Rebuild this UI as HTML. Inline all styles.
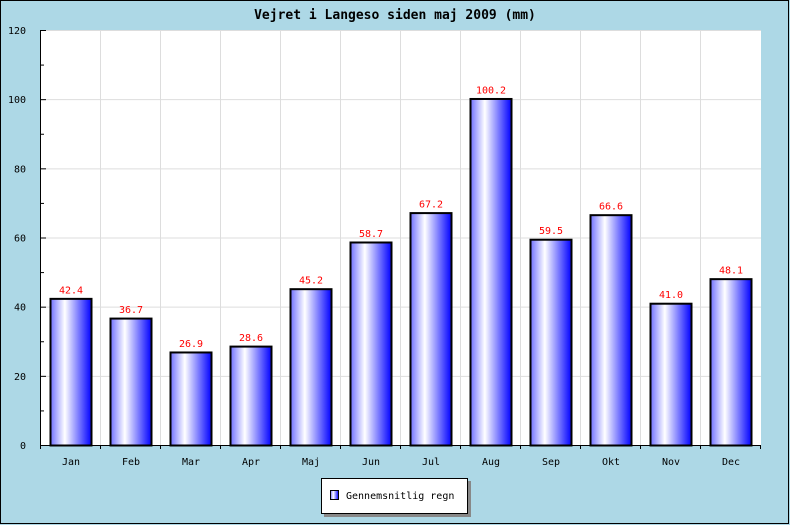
<!DOCTYPE html>
<html><head><meta charset="utf-8"><style>
body{margin:0;background:#add8e6}
svg{display:block;font-family:"DejaVu Sans Mono","Liberation Mono",monospace}
</style></head><body>
<svg width="790" height="525">
<defs><linearGradient id="g" x1="0" x2="1" y1="0" y2="0">
<stop offset="0" stop-color="#7070ff"/><stop offset="0.35" stop-color="#ffffff"/><stop offset="1" stop-color="#0000ff"/></linearGradient></defs>
<rect x="0.5" y="0.5" width="788" height="523" fill="#add8e6" stroke="#000"/>
<text x="395" y="19" text-anchor="middle" font-size="13" font-weight="bold">Vejret i Langeso siden maj 2009 (mm)</text>
<rect x="41" y="30" width="720" height="415" fill="#fff"/>
<g id="grid"></g><g id="bars"></g><g id="axes"></g>
<g>
<rect x="324" y="481" width="147" height="36" fill="#888"/>
<rect x="321.5" y="478.5" width="146" height="35" fill="#fff" stroke="#000"/>
<rect x="330.5" y="490.5" width="8" height="9" fill="url(#g)" stroke="#000"/>
<text x="346" y="499" font-size="10">Gennemsnitlig regn</text>
</g>
</svg>
<script>
const categories=["Jan","Feb","Mar","Apr","Maj","Jun","Jul","Aug","Sep","Okt","Nov","Dec"];
const values=[42.4,36.7,26.9,28.6,45.2,58.7,67.2,100.2,59.5,66.6,41.0,48.1];
const yTicks=[0,20,40,60,80,100,120];
const NS="http://www.w3.org/2000/svg";
const L=41,R=761,T=30,B=445,YMAX=120;
const y=v=>B-(v/YMAX)*(B-T);
const cw=(R-L)/categories.length;
const x=i=>L+cw*i;
function mk(t,a,p){const e=document.createElementNS(NS,t);for(const k in a)e.setAttribute(k,a[k]);p.appendChild(e);return e;}
const grid=document.getElementById('grid'),bars=document.getElementById('bars'),axes=document.getElementById('axes');
yTicks.forEach(v=>{if(v>0){const l=mk('line',{x1:L,x2:R,y1:y(v)+.5,y2:y(v)+.5,stroke:'#ddd'},grid);

}
const t=mk('text',{x:26,y:y(v)+4,'text-anchor':'end','font-size':'10'},axes);t.textContent=v;


mk('line',{x1:L,x2:L+5,y1:y(v)+.5,y2:y(v)+.5,stroke:'#000'},axes);
if(v<YMAX)mk('line',{x1:L,x2:L+3,y1:y(v+10)+.5,y2:y(v+10)+.5,stroke:'#000'},axes);});
categories.forEach((c,i)=>{
if(i>0){const g=mk('line',{x1:x(i)-.5,x2:x(i)-.5,y1:T,y2:B,stroke:'#ddd'},grid);

}
const v=values[i],bx=x(i)+9,bw=42;
const r=mk('rect',{x:bx+.5,y:y(v)+.5,width:bw-1,height:B-y(v),fill:'url(#g)',stroke:'#000','stroke-width':2},bars);


const vl=mk('text',{x:bx+bw/2,y:y(v)-5,'text-anchor':'middle','font-size':'10',fill:'red'},bars);vl.textContent=v.toFixed(1);


const xl=mk('text',{x:bx+bw/2,y:465,'text-anchor':'middle','font-size':'10'},axes);xl.textContent=c;


mk('line',{x1:x(i)-.5,x2:x(i)-.5,y1:B,y2:B+4,stroke:'#000'},axes);});
mk('line',{x1:R-.5,x2:R-.5,y1:B,y2:B+4,stroke:'#000'},axes);
const ya=mk('line',{x1:L-.5,x2:L-.5,y1:T,y2:B,stroke:'#000'},axes);


const xa=mk('line',{x1:L,x2:R,y1:B+.5,y2:B+.5,stroke:'#000'},axes);


</script>
</body></html>
